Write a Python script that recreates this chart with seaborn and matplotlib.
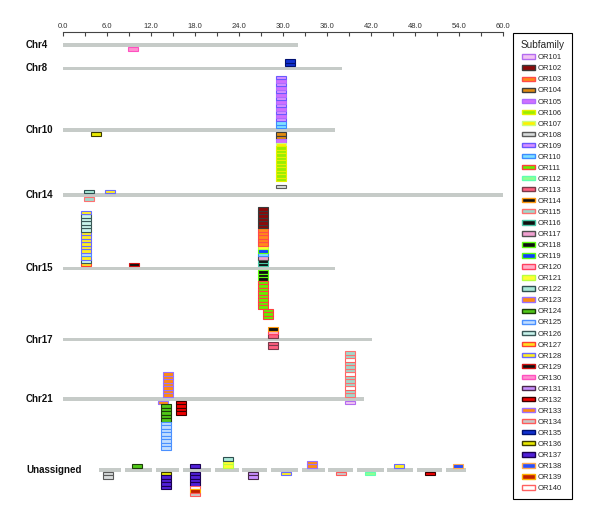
import pandas as pd
import seaborn as sns
import matplotlib.pyplot as plt
from matplotlib.patches import Patch
from matplotlib.transforms import blended_transform_factory

sns.set_theme(style='white')
plt.rcParams['font.family'] = ['Liberation Sans', 'DejaVu Sans']

# chromosomes and their length (Mb)
chrom_names = ['Chr4', 'Chr8', 'Chr10', 'Chr14', 'Chr15', 'Chr17', 'Chr21', 'Unassigned']
chrom_length = [32.0, 38.0, 37.1, 60.0, 37.1, 42.1, 41.0, 0.0]

# unassigned scaffolds (start / end, Mb)
scaffold_start = [4.9, 8.5, 12.7, 16.4, 20.7, 24.4, 28.4, 32.6, 36.1, 40.1, 44.2, 48.3, 52.2]
scaffold_end = [7.9, 12.1, 15.8, 20.2, 24.0, 27.8, 32.0, 35.7, 39.6, 43.8, 47.7, 51.7, 54.9]

subfamilies = ['OR%d' % i for i in range(101, 141)]
sub_face = ['#f2c4f2', '#8b0a0a', '#ff8a1a', '#e08a10', '#d070ff', '#99ee00', '#fff000', '#d8dcdc',
            '#d890ff', '#7fe0ff', '#66ee00', '#90ff90', '#ff6080', '#101010', '#a0d8cc', '#101010',
            '#f0a0d0', '#101010', '#1040ff', '#ffb0c8', '#ffff30', '#a8e8d8', '#ff8a10', '#50c818',
            '#c0ddff', '#c8f4ec', '#ffe020', '#ffee20', '#101010', '#ff90d0', '#c890ff', '#ee0000',
            '#ff8a10', '#c8c8c8', '#1030d0', '#e8e800', '#5020d8', '#2850ff', '#c02000', '#ffffff']
sub_edge = ['#b36cf0', '#3a3a3a', '#ff4a4a', '#3d3d3d', '#b06cff', '#e8f000', '#c8ff80', '#5a5a5a',
            '#6a5aff', '#3c8cff', '#ff4040', '#60ffb0', '#7a3a4a', '#ff9a10', '#ff7070', '#4ac8a8',
            '#505050', '#60ff10', '#60ff10', '#ff4060', '#b8ff40', '#2e5050', '#9a70ff', '#1e3e0a',
            '#4a90ff', '#3a5858', '#ff4030', '#6a6aff', '#d01010', '#ff50c0', '#4a2a4a', '#3a0000',
            '#a070ff', '#ff5a5a', '#001070', '#3c3c00', '#1a0050', '#ffaa50', '#ffb000', '#ff6060']

# gene clusters: (position Mb, subfamilies above the chromosome, below it), nearest first, 0 = empty slot
chr4_genes = [(9.5, [], [130])]
chr8_genes = [(31.0, [135, 135], [])]
chr10_genes = [
    (4.5, [], [136]),
    (29.7, [110, 110, 109, 105, 109, 105, 109, 105, 109, 105, 109, 105, 109, 105, 109],
     [104, 104, 105, 107, 106, 106, 106, 106, 106, 106, 106, 106, 106, 106, 0, 108]),
]
chr14_genes = [(3.5, [122], [115]), (6.4, [128], [])]
chr15_genes = [
    (3.2, [127, 126, 128, 125, 128, 128, 128, 128, 128, 128, 126, 126, 126, 126, 126, 128], []),
    (9.7, [129], []),
    (27.3, [116, 116, 117, 110, 119, 121, 103, 103, 103, 103, 103, 102, 102, 102, 102, 102, 102],
     [118, 118, 118, 111, 111, 111, 111, 111, 111, 111, 111]),
    (28.0, [], [0] * 11 + [111, 111, 111]),
]
chr17_genes = [(28.6, [113, 120, 114], [113, 113])]
chr21_genes = [
    (14.3, [123, 123, 123, 123, 123, 123, 123], []),
    (13.7, [], [123]),
    (14.1, [], [0, 124, 124, 124, 124, 124, 125, 125, 125, 125, 125, 125, 125, 125]),
    (16.1, [], [132, 132, 132, 132]),
    (39.1, [115, 115, 140, 115, 115, 115, 140, 115, 115, 115, 140, 115, 115], [101]),
]
unassigned_genes = [
    (6.1, [], [108, 108]),
    (10.1, [124], []),
    (14.0, [], [136, 137, 137, 137, 137]),
    (18.0, [137], [137, 137, 137, 137, 140, 139, 134]),
    (22.5, [121, 121, 122], []),
    (25.9, [], [131, 131]),
    (30.4, [], [128]),
    (33.9, [123, 123], []),
    (37.9, [], [134]),
    (41.9, [], [112]),
    (45.8, [128], []),
    (50.1, [], [132]),
    (53.9, [138], []),
]

genes = dict(zip(chrom_names, [chr4_genes, chr8_genes, chr10_genes, chr14_genes,
                               chr15_genes, chr17_genes, chr21_genes, unassigned_genes]))

# layout (y in pixel-like units, top down)
row_y = dict(zip(chrom_names, [45, 68.3, 130, 195, 268.5, 339.7, 399, 470]))
slot = 3.5
box_w = 1.36
bar_h = 3.4
bar_color = '#c6cbc8'

rows = []
for chrom, clist in genes.items():
    for pos, above, below in clist:
        for k, s in enumerate(above):
            if s:
                rows.append((chrom, pos, 'above', k, s))
        for k, s in enumerate(below):
            if s:
                rows.append((chrom, pos, 'below', k, s))
df = pd.DataFrame(rows, columns=['chrom', 'pos', 'side', 'slot', 'sub'])
c = df['chrom'].map(row_y)
df['y0'] = c + 2.0 + df['slot'] * slot
up = df['side'] == 'above'
df.loc[up, 'y0'] = c[up] - 2.0 - (df.loc[up, 'slot'] + 1) * slot
df['face'] = df['sub'].map(lambda s: sub_face[s - 101])
df['edge'] = df['sub'].map(lambda s: sub_edge[s - 101])

fig = plt.figure(figsize=(6, 5.2), dpi=100)
ax = fig.add_axes([63 / 600, 20 / 520, 440 / 600, (500 - 31.7) / 520])

# chromosomes
for name, length in zip(chrom_names, chrom_length):
    if length > 0:
        ax.barh(row_y[name], length, left=0, height=bar_h, color=bar_color, linewidth=0)
ax.barh([row_y['Unassigned']] * len(scaffold_start),
        [e - s for s, e in zip(scaffold_start, scaffold_end)],
        left=scaffold_start, height=bar_h, color=bar_color, linewidth=0)

# genes
ax.bar(df['pos'], slot, bottom=df['y0'], width=box_w, color=df['face'],
       edgecolor=df['edge'], linewidth=0.8)

ax.set_xlim(0, 60)
ax.set_ylim(500, 31.7)
ticks = list(range(0, 61, 3))
ax.set_xticks(ticks)
ax.set_xticklabels(['%.1f' % t if t % 6 == 0 else '' for t in ticks])
ax.xaxis.tick_top()
ax.tick_params(axis='x', which='major', direction='in', length=3, width=0.8,
               color='#444444', labelsize=5.5, labelcolor='#333333', pad=1.5)
ax.set_yticks([])
for side in ['left', 'right', 'bottom']:
    ax.spines[side].set_visible(False)
ax.spines['top'].set_color('#444444')
ax.spines['top'].set_linewidth(0.8)

trans = blended_transform_factory(ax.transAxes, ax.transData)
for name in chrom_names:
    ax.text(-37 / 440, row_y[name], name, transform=trans, ha='left', va='center',
            fontsize=7, fontweight='bold', color='#111111')

handles = [Patch(facecolor=f, edgecolor=e, linewidth=1.0) for f, e in zip(sub_face, sub_edge)]
leg = fig.legend(handles, subfamilies, title='Subfamily', loc='upper left',
                 bbox_to_anchor=(513 / 600, 1 - 33 / 520), frameon=True, fancybox=False,
                 edgecolor='black', framealpha=1, fontsize=5.5, title_fontsize=7.2,
                 handlelength=1.6, handleheight=0.5, handletextpad=0.45,
                 labelspacing=0.53, borderpad=0.95, borderaxespad=0)
leg.get_frame().set_linewidth(0.8)

fig.savefig('out.png', dpi=100)
